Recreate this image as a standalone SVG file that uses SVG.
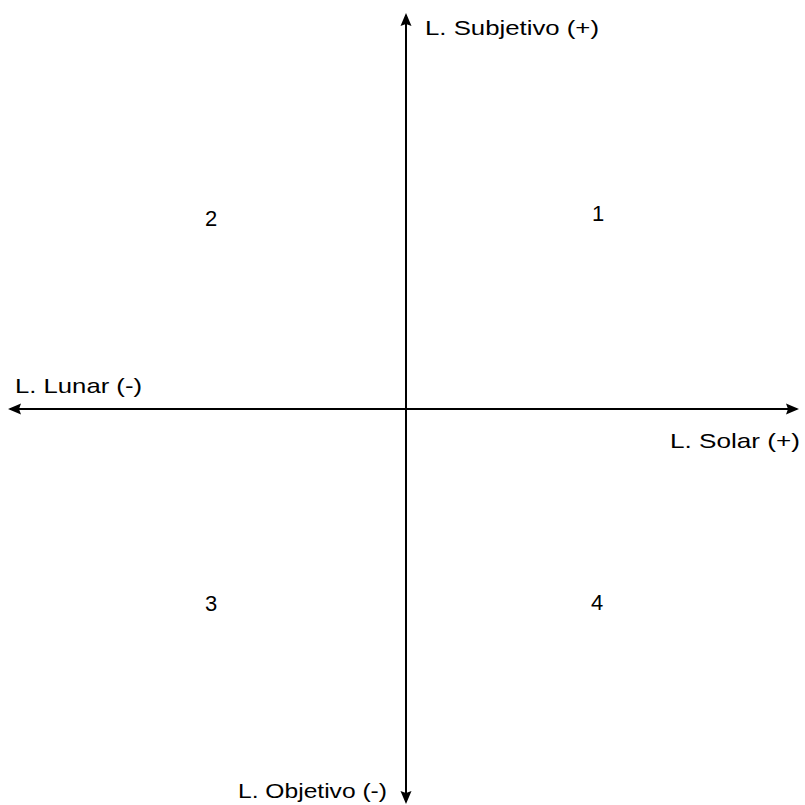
<svg xmlns="http://www.w3.org/2000/svg" width="805" height="805" viewBox="0 0 805 805">
<style>
text { font-family: "Liberation Sans", Arial, sans-serif; font-size: 21px; fill: #000; }
.axis { stroke: #000; stroke-width: 2; fill: none; marker-start: url(#arr); marker-end: url(#arr); }
.num { text-anchor: middle; font-size: 22px; }
</style>
<defs>
<marker id="arr" markerUnits="userSpaceOnUse" markerWidth="13" markerHeight="12" refX="11" refY="6" orient="auto-start-reverse" viewBox="0 0 13 12">
<path d="M0,0.5 L13,6 L0,11.5 L2,6 Z" fill="#000"/>
</marker>
</defs>
<rect width="805" height="805" fill="#fff"/>
<g id="connectors">
<line class="axis" x1="406" y1="15" x2="406" y2="802"/>
<line class="axis" x1="10" y1="409" x2="797" y2="409"/>
</g>
<g id="label-subjetivo"><text x="425" y="35" textLength="174" lengthAdjust="spacingAndGlyphs">L. Subjetivo (+)</text></g>
<g id="label-lunar"><text x="15" y="393" textLength="127" lengthAdjust="spacingAndGlyphs">L. Lunar (-)</text></g>
<g id="label-solar"><text x="670" y="448" textLength="130" lengthAdjust="spacingAndGlyphs">L. Solar (+)</text></g>
<g id="label-objetivo"><text x="238" y="798" textLength="149" lengthAdjust="spacingAndGlyphs">L. Objetivo (-)</text></g>
<g id="q1"><text class="num" x="598" y="221">1</text></g>
<g id="q2"><text class="num" x="211" y="226">2</text></g>
<g id="q3"><text class="num" x="211" y="611">3</text></g>
<g id="q4"><text class="num" x="597" y="610">4</text></g>
</svg>
